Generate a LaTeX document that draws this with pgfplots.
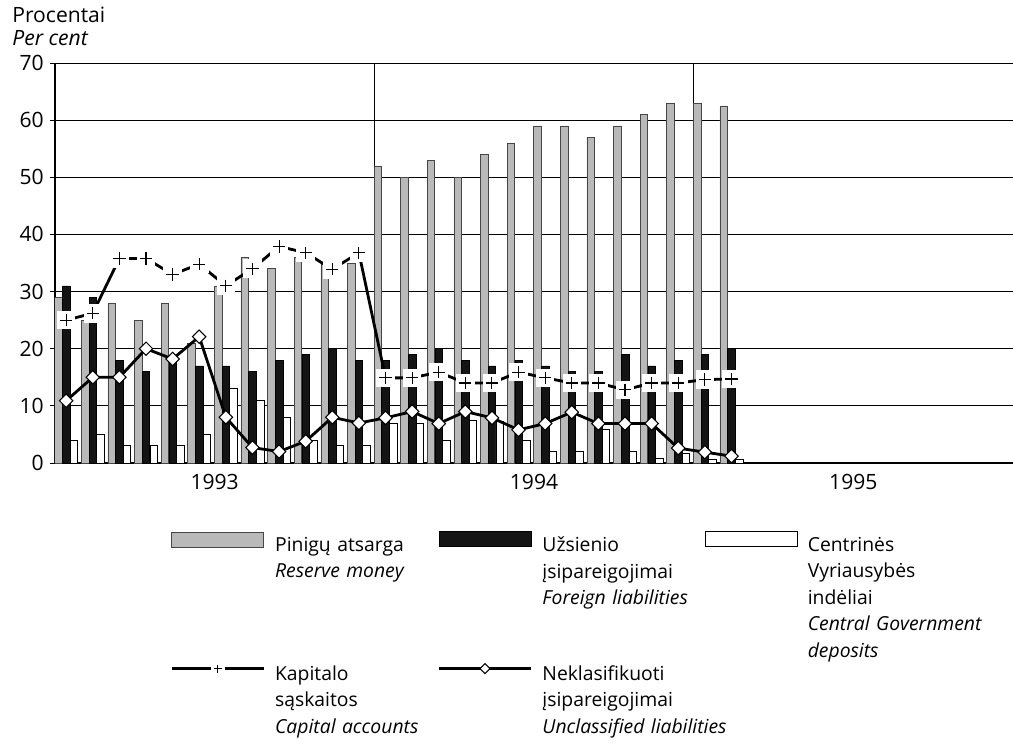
\documentclass[border=0pt]{standalone}
\usepackage{pgfplots}
\pgfplotsset{compat=1.18}
\usepackage{pgfplotstable}
\usepackage{fontspec}
\setmainfont{Open Sans}

% monthly shares, Jan 1993 - Feb 1995
\pgfplotstableread{
m  reserve foreign govdep capital unclass
0  29   31  4    25   10.9
1  25   29  5    26.2 15
2  28   18  3    35.8 15
3  25   16  3    35.8 20
4  28   18  3    33   18.2
5  21   17  5    34.8 22.1
6  31   17  13   31   8
7  36   16  11   34   2.7
8  34   18  8    37.9 2
9  36   19  4    36.8 3.8
10 35   20  3    33.9 8
11 35   18  3    36.8 7
12 52   18  7    14.9 7.9
13 50   19  7    14.9 9
14 53   20  4    15.9 6.9
15 50   18  7.5  14   9
16 54   17  7.3  14   7.9
17 56   18  4    15.9 5.8
18 59   17  2    14.9 6.9
19 59   16  2    14   8.9
20 57   16  5.8  14   6.9
21 59   19  2    12.8 6.9
22 61   17  0.8  14   6.9
23 63   18  1.7  14   2.6
24 63   19  0.7  14.6 1.9
25 62.5 20  0.6  14.7 1.2
}\datatable

\begin{document}
\begin{tikzpicture}
\begin{axis}[
    scale only axis,
    width=19.16cm, height=8cm,
    at={(0,0)}, anchor=south west,
    xmin=-0.42, xmax=35.58,
    ymin=0, ymax=70,
    axis x line*=bottom, axis y line*=left,
    axis line style={-, black, line width=0.8pt},
    ytick={0,10,...,70},
    ymajorgrids,
    grid style={black, line width=0.5pt},
    tick align=outside,
    major tick length=0.1cm,
    ytick style={black, line width=0.5pt},
    xtick={5.58,17.58,29.58},
    xticklabels={1993,1994,1995},
    xtick style={draw=none},
    extra x ticks={11.58,23.58},
    extra x tick labels={},
    extra x tick style={xmajorgrids, major grid style={black, line width=0.6pt}},
    /pgf/number format/assume math mode=true,
    ticklabel style={font=\fontsize{12}{14}\selectfont},
    legend columns=3,
    legend cell align=left,
    legend style={at={(0.12,-0.17)}, anchor=north west, draw=none, fill=none,
        column sep=0pt, row sep=2.17cm, inner sep=0pt,
        nodes={text width=3.05cm, align=left, inner xsep=0.2cm, inner ysep=0pt,
               font=\fontsize{11}{15}\selectfont}},
]
% bars
\addplot[ybar, bar width=0.15cm, bar shift=-0.155cm, fill=gray!55, draw=gray!55!black, line width=0.3pt, forget plot]
    table[x=m, y=reserve]{\datatable};
\addplot[ybar, bar width=0.15cm, bar shift=0cm, fill=black!92, draw=black, line width=0.3pt, forget plot]
    table[x=m, y=foreign]{\datatable};
\addplot[ybar, bar width=0.15cm, bar shift=0.155cm, fill=white, draw=black, line width=0.5pt, forget plot]
    table[x=m, y=govdep]{\datatable};

% capital accounts: white boxes behind the + marks
\addplot[black, line width=1.6pt, mark=square*, mark size=5pt,
    mark options={fill=white, draw=white, line width=0pt}, forget plot]
    table[x=m, y=capital]{\datatable};
\addplot[only marks, mark=+, mark size=3.5pt, mark options={black, line width=0.6pt}, forget plot]
    table[x=m, y=capital]{\datatable};

% unclassified liabilities
\addplot[black, line width=1.6pt, mark=square*, mark size=2.7pt,
    mark options={rotate=45, fill=white, draw=black, line width=0.6pt}, forget plot]
    table[x=m, y=unclass]{\datatable};

% legend
\addlegendimage{legend image code/.code={\draw[fill=gray!55, draw=gray!55!black, line width=0.3pt] (0cm,-0.02cm) rectangle (1.84cm,0.28cm);}}
\addlegendentry{Pinigų atsarga\\\textit{Reserve money}}
\addlegendimage{legend image code/.code={\draw[fill=black!92, draw=black] (0cm,-0.02cm) rectangle (1.84cm,0.28cm);}}
\addlegendentry{Užsienio\\įsipareigojimai\\\mbox{\textit{Foreign liabilities}}}
\addlegendimage{legend image code/.code={\draw[fill=white, draw=black, line width=0.5pt] (0cm,-0.02cm) rectangle (1.84cm,0.28cm);}}
\addlegendentry{Centrinės\\Vyriausybės\\indėliai\\\mbox{\textit{Central Government}}\\\textit{deposits}}
\addlegendimage{legend image code/.code={
    \draw[black, line width=1.6pt] (0cm,0.12cm) -- (0.78cm,0.12cm);
    \draw[black, line width=1.6pt] (1.06cm,0.12cm) -- (1.84cm,0.12cm);
    \draw[black, line width=0.5pt] (0.84cm,0.12cm) -- (1.0cm,0.12cm) (0.92cm,0.04cm) -- (0.92cm,0.2cm);}}
\addlegendentry{Kapitalo\\sąskaitos\\\mbox{\textit{Capital accounts}}}
\addlegendimage{legend image code/.code={
    \draw[black, line width=1.6pt] (0cm,0.12cm) -- (1.84cm,0.12cm);
    \draw[black, fill=white, line width=0.6pt] (0.92cm,0.22cm) -- (1.02cm,0.12cm) -- (0.92cm,0.02cm) -- (0.82cm,0.12cm) -- cycle;}}
\addlegendentry{Neklasifikuoti\\įsipareigojimai\\\mbox{\textit{Unclassified liabilities}}}
\end{axis}

\node[anchor=base west, font=\fontsize{12}{14}\selectfont, inner sep=0pt] at (-0.86cm,8.8cm) {Procentai};
\node[anchor=base west, font=\fontsize{12}{14}\selectfont\itshape, inner sep=0pt] at (-0.86cm,8.35cm) {Per cent};

\pgfresetboundingbox
\useasboundingbox (-1.1cm,-5.72cm) rectangle (19.16cm,9.26cm);
\end{tikzpicture}
\end{document}
